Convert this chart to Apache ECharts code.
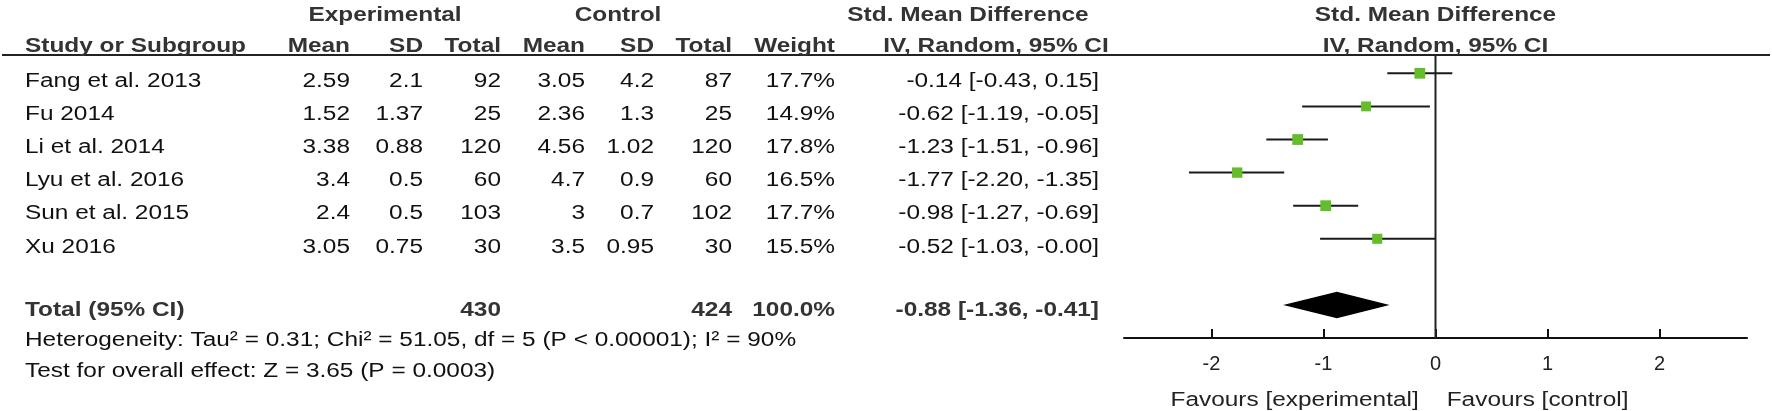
<!DOCTYPE html>
<html><head><meta charset="utf-8">
<script src="https://cdn.jsdelivr.net/npm/echarts@6/dist/echarts.min.js"></script>
<style>html,body{margin:0;padding:0;background:#fff}#c{width:1772px;height:411px}</style>
</head><body><div id="c"></div>
<script>
// ---- data ----
const studies   = ['Fang et al. 2013','Fu 2014','Li et al. 2014','Lyu et al. 2016','Sun et al. 2015','Xu 2016'];
const expMean   = ['2.59','1.52','3.38','3.4','2.4','3.05'];
const expSD     = ['2.1','1.37','0.88','0.5','0.5','0.75'];
const expTotal  = [92,25,120,60,103,30];
const ctrlMean  = ['3.05','2.36','4.56','4.7','3','3.5'];
const ctrlSD    = ['4.2','1.3','1.02','0.9','0.7','0.95'];
const ctrlTotal = [87,25,120,60,102,30];
const weight    = [17.7,14.9,17.8,16.5,17.7,15.5];
const smd       = [-0.14,-0.62,-1.23,-1.77,-0.98,-0.52];
const ciLow     = [-0.43,-1.19,-1.51,-2.20,-1.27,-1.03];
const ciHigh    = [0.15,-0.05,-0.96,-1.35,-0.69,-0.00];
const totalN    = [430,424];          // experimental, control
const totalWeight = 100.0;
const totalEffect = [-0.88,-1.36,-0.41]; // estimate, low, high
const heterogeneity = {tau2:'0.31', chi2:'51.05', df:'5', p:'P < 0.00001', i2:'90%'};
const overall = {z:'3.65', p:'P = 0.0003'};
const tickValues = [-2,-1,0,1,2];
const axisExtent = [-2.78,2.78];

// ---- layout ----
const FONT = "'Liberation Sans', Arial, sans-serif";
const FS = 20, SX = 1.22;
const rowTop = 73.3, rowStep = 33.1;
const rowOf = py => (py - rowTop) / rowStep;
const totalRow = 7;
const col = {study:25, expMean:350, expSD:423, expTotal:501, ctrlMean:585, ctrlSD:654, ctrlTotal:732, weight:835, ci:1099};

const fmt = v => ((v < 0 || Object.is(v,-0)) ? '-' : '') + Math.abs(v).toFixed(2);

// table cells
const cells = [];
function cell(x, py, text, align, bold, color){ cells.push({x, y: rowOf(py), text, align, bold, color}); }
const H = '#333', B = '#111';
cell(385, 15, 'Experimental', 'center', true, H);
cell(618, 15, 'Control', 'center', true, H);
cell(968, 15, 'Std. Mean Difference', 'center', true, H);
cell(col.study, 46, 'Study or Subgroup', 'left', true, H);
cell(col.expMean, 46, 'Mean', 'right', true, H);
cell(col.expSD, 46, 'SD', 'right', true, H);
cell(col.expTotal, 46, 'Total', 'right', true, H);
cell(col.ctrlMean, 46, 'Mean', 'right', true, H);
cell(col.ctrlSD, 46, 'SD', 'right', true, H);
cell(col.ctrlTotal, 46, 'Total', 'right', true, H);
cell(col.weight, 46, 'Weight', 'right', true, H);
cell(996, 46, 'IV, Random, 95% CI', 'center', true, H);
studies.forEach((s, i) => {
  const py = rowTop + rowStep * i + 8.2;
  cell(col.study, py, s, 'left', false, B);
  cell(col.expMean, py, expMean[i], 'right', false, B);
  cell(col.expSD, py, expSD[i], 'right', false, B);
  cell(col.expTotal, py, String(expTotal[i]), 'right', false, B);
  cell(col.ctrlMean, py, ctrlMean[i], 'right', false, B);
  cell(col.ctrlSD, py, ctrlSD[i], 'right', false, B);
  cell(col.ctrlTotal, py, String(ctrlTotal[i]), 'right', false, B);
  cell(col.weight, py, weight[i].toFixed(1) + '%', 'right', false, B);
  cell(col.ci, py, fmt(smd[i]) + ' [' + fmt(ciLow[i]) + ', ' + fmt(ciHigh[i]) + ']', 'right', false, B);
});
const pyT = rowTop + rowStep * totalRow + 5;
cell(col.study, pyT, 'Total (95% CI)', 'left', true, H);
cell(col.expTotal, pyT, String(totalN[0]), 'right', true, H);
cell(col.ctrlTotal, pyT, String(totalN[1]), 'right', true, H);
cell(col.weight, pyT, totalWeight.toFixed(1) + '%', 'right', true, H);
cell(col.ci, pyT, fmt(totalEffect[0]) + ' [' + fmt(totalEffect[1]) + ', ' + fmt(totalEffect[2]) + ']', 'right', true, H);
cell(col.study, 340, 'Heterogeneity: Tau\u00b2 = ' + heterogeneity.tau2 + '; Chi\u00b2 = ' + heterogeneity.chi2 + ', df = ' + heterogeneity.df + ' (' + heterogeneity.p + '); I\u00b2 = ' + heterogeneity.i2, 'left', false, B);
cell(col.study, 371, 'Test for overall effect: Z = ' + overall.z + ' (' + overall.p + ')', 'left', false, B);

// plot texts (x in effect units)
const plotTexts = [
  {x:0, y:rowOf(15), text:'Std. Mean Difference', align:'center', bold:true, color:H},
  {x:0, y:rowOf(46), text:'IV, Random, 95% CI', align:'center', bold:true, color:H},
  {x:-0.15, y:rowOf(400), text:'Favours [experimental]', align:'right', bold:false, color:'#222'},
  {x:0.10, y:rowOf(400), text:'Favours [control]', align:'left', bold:false, color:'#222'}
];

function textRender(list){
  return function(params, api){
    const c = list[params.dataIndex];
    const p = api.coord([c.x, c.y]);
    return {type:'text', x:p[0], y:p[1], scaleX:SX, scaleY:1,
      style:{text:c.text, x:0, y:0, align:c.align, verticalAlign:'middle',
        fontSize:FS, fontFamily:FONT, fontWeight:c.bold?'bold':'normal', fill:c.color}};
  };
}

const gridTop = rowTop - rowStep, gridH = rowStep * 9;
const chart = echarts.init(document.getElementById('c'), null, {renderer:'canvas'});
chart.setOption({
  animation:false,
  backgroundColor:'#fff',
  grid:[
    {left:0, top:gridTop, width:1772, height:gridH},
    {left:1124, top:gridTop, width:623, height:gridH}
  ],
  xAxis:[
    {gridIndex:0, type:'value', min:0, max:1772, show:false},
    {gridIndex:1, type:'value', min:axisExtent[0], max:axisExtent[1],
      axisLine:{show:true, onZero:false, lineStyle:{color:'#111', width:2}},
      axisTick:{show:true, inside:true, length:9, customValues:tickValues, lineStyle:{color:'#111', width:2}},
      axisLabel:{show:true, customValues:tickValues, margin:16, fontSize:FS, fontFamily:FONT, color:'#222'},
      splitLine:{show:false}}
  ],
  yAxis:[
    {gridIndex:0, type:'value', min:-1, max:8, inverse:true, show:false},
    {gridIndex:1, type:'value', min:-1, max:8, inverse:true, show:false}
  ],
  graphic:[
    {type:'line', shape:{x1:2, y1:55, x2:1770, y2:55}, style:{stroke:'#222', lineWidth:2}, z:1}
  ],
  series:[
    {type:'custom', name:'table', xAxisIndex:0, yAxisIndex:0, silent:true,
      data: cells.map(c => [c.x, c.y]), renderItem: textRender(cells), z:5},
    {type:'custom', name:'plotText', xAxisIndex:1, yAxisIndex:1, silent:true,
      data: plotTexts.map(c => [c.x, c.y]), renderItem: textRender(plotTexts), z:5},
    {type:'custom', name:'zero', xAxisIndex:1, yAxisIndex:1, silent:true,
      data:[[0, rowOf(55), 8]],
      renderItem:(params, api) => {
        const a = api.coord([api.value(0), api.value(1)]);
        const b = api.coord([api.value(0), api.value(2)]);
        return {type:'line', shape:{x1:a[0], y1:a[1], x2:b[0], y2:b[1]}, style:{stroke:'#222', lineWidth:2}};
      }, z:2},
    {type:'custom', name:'ci', xAxisIndex:1, yAxisIndex:1, silent:true,
      data: studies.map((s,i) => [ciLow[i], ciHigh[i], i]),
      renderItem:(params, api) => {
        const a = api.coord([api.value(0), api.value(2)]);
        const b = api.coord([api.value(1), api.value(2)]);
        return {type:'line', shape:{x1:a[0], y1:a[1], x2:b[0], y2:b[1]}, style:{stroke:'#1a1a1a', lineWidth:2}};
      }, z:3},
    {type:'scatter', name:'smd', xAxisIndex:1, yAxisIndex:1, silent:true,
      symbol:'rect',
      data: studies.map((s,i) => ({value:[smd[i], i], symbolSize: 10.8 * Math.sqrt(weight[i] / 17.8)})),
      itemStyle:{color:'#64be2b', opacity:1}, z:4},
    {type:'custom', name:'diamond', xAxisIndex:1, yAxisIndex:1, silent:true,
      data:[[totalEffect[0], totalEffect[1], totalEffect[2], totalRow]],
      renderItem:(params, api) => {
        const r = api.value(3), h = 0.40;
        const pts = [
          api.coord([api.value(1), r]),
          api.coord([api.value(0), r - h]),
          api.coord([api.value(2), r]),
          api.coord([api.value(0), r + h])
        ];
        return {type:'polygon', shape:{points:pts}, style:{fill:'#000'}};
      }, z:4}
  ]
});
</script></body></html>
